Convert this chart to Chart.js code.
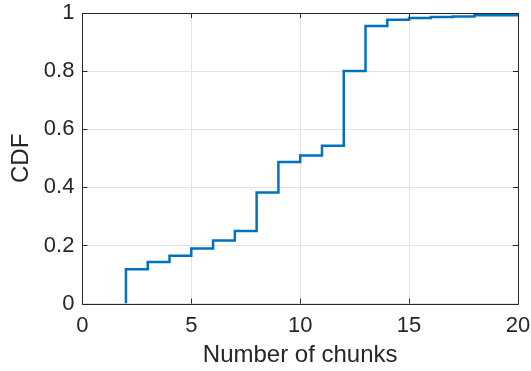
<!DOCTYPE html>
<html>
<head>
<meta charset="utf-8">
<script src="https://cdn.jsdelivr.net/npm/chart.js@4/dist/chart.umd.min.js"></script>
<style>
  html, body { margin: 0; padding: 0; background: #fff; }
  #wrap { width: 531px; height: 371px; }
</style>
</head>
<body>
<div id="wrap"><canvas id="c" width="531" height="371"></canvas></div>
<script>
// Empirical CDF of the number of chunks
const chunkCounts = [2, 2, 3, 4, 5, 6, 7, 8, 9, 10, 11, 12, 13, 14, 15, 16, 17, 18, 20];
const cdfValues   = [0, 0.118, 0.143, 0.165, 0.19, 0.217, 0.25, 0.382, 0.487, 0.51, 0.543, 0.80, 0.955, 0.977, 0.983, 0.986, 0.988, 0.992, 0.992];
const xTicks = [0, 5, 10, 15, 20];
const yTicks = [0, 0.2, 0.4, 0.6, 0.8, 1];

const axisColor = '#262626';
const gridColor = '#e3e3e3';
const fontFamily = '"Liberation Sans", Arial, Helvetica, sans-serif';

// Box around the axes with inward-pointing tick marks
const boxTicks = {
  id: 'boxTicks',
  afterDraw(chart) {
    const { ctx, chartArea: a, scales: { x, y } } = chart;
    const len = 5;
    ctx.save();
    ctx.strokeStyle = axisColor;
    ctx.lineWidth = 1;
    ctx.beginPath();
    ctx.rect(Math.round(a.left) + 0.5, Math.round(a.top) + 0.5,
             Math.round(a.right - a.left), Math.round(a.bottom - a.top));
    for (const v of xTicks) {
      const px = Math.round(x.getPixelForValue(v)) + 0.5;
      ctx.moveTo(px, a.bottom); ctx.lineTo(px, a.bottom - len);
      ctx.moveTo(px, a.top); ctx.lineTo(px, a.top + len);
    }
    for (const v of yTicks) {
      const py = Math.round(y.getPixelForValue(v)) + 0.5;
      ctx.moveTo(a.left, py); ctx.lineTo(a.left + len, py);
      ctx.moveTo(a.right, py); ctx.lineTo(a.right - len, py);
    }
    ctx.stroke();
    ctx.restore();
  }
};

new Chart(document.getElementById('c'), {
  type: 'line',
  data: {
    datasets: [{
      data: chunkCounts.map((v, i) => ({ x: v, y: cdfValues[i] })),
      borderColor: '#0072BD',
      borderWidth: 2.5,
      stepped: 'before',
      pointRadius: 0,
      fill: false
    }]
  },
  options: {
    responsive: false,
    animation: false,
    devicePixelRatio: 1,
    layout: { padding: { top: 13, right: 13, left: 7, bottom: 4 } },
    plugins: { legend: { display: false }, tooltip: { enabled: false } },
    scales: {
      x: {
        type: 'linear', min: 0, max: 20,
        afterBuildTicks: s => { s.ticks = xTicks.map(v => ({ value: v })); },
        afterFit: s => { s.paddingLeft = 0; s.paddingRight = 0; },
        grid: { color: gridColor, drawTicks: false },
        border: { display: false },
        ticks: { color: axisColor, padding: 9, maxRotation: 0, font: { family: fontFamily, size: 22 },
                 callback: v => String(v) },
        title: { display: true, text: 'Number of chunks', color: axisColor, padding: { top: -5, bottom: 0 },
                 font: { family: fontFamily, size: 24, lineHeight: 1 } }
      },
      y: {
        type: 'linear', min: 0, max: 1,
        afterBuildTicks: s => { s.ticks = yTicks.map(v => ({ value: v })); },
        afterFit: s => { s.paddingTop = 0; s.paddingBottom = 0; },
        grid: { color: gridColor, drawTicks: false },
        border: { display: false },
        ticks: { color: axisColor, padding: 8, font: { family: fontFamily, size: 22 },
                 callback: v => String(Math.round(v * 10) / 10) },
        title: { display: true, text: 'CDF', color: axisColor, padding: { top: 0, bottom: 0 },
                 font: { family: fontFamily, size: 24 } }
      }
    }
  },
  plugins: [boxTicks]
});
</script>
</body>
</html>
